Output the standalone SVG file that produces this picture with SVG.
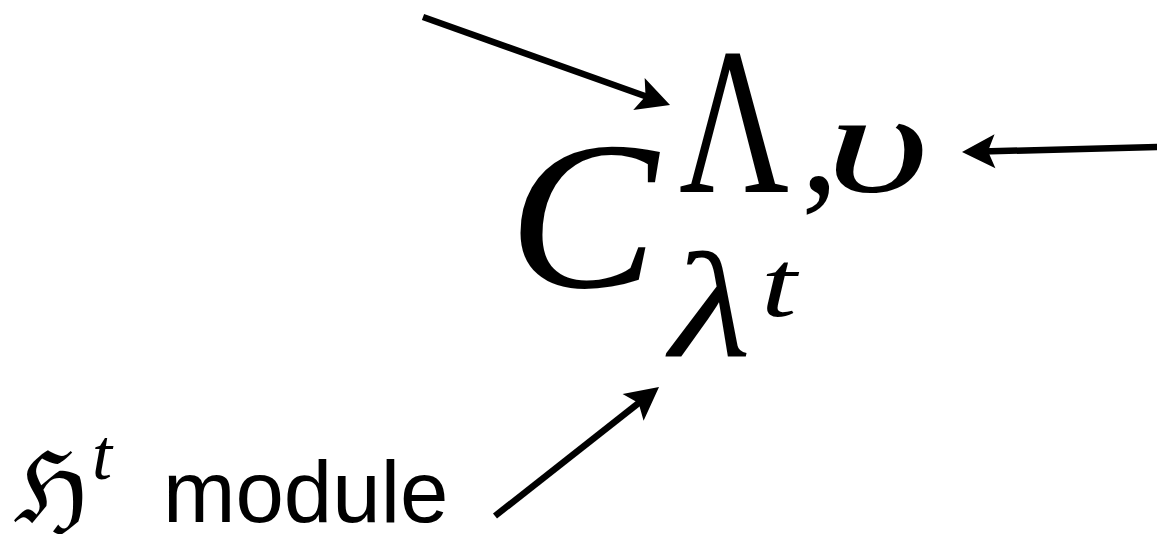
<svg xmlns="http://www.w3.org/2000/svg" width="1157" height="534" viewBox="0 0 1157 534">
<style>
.conn { stroke: #000; stroke-width: 6.5; fill: none; marker-end: url(#ah); }
.math { font-family: "Liberation Serif", "DejaVu Serif", serif; fill: #000; }
.it { font-style: italic; }
.lbl { font-family: "Liberation Sans", Arial, sans-serif; fill: #000; }
</style>
<defs>
<marker id="ah" markerUnits="userSpaceOnUse" viewBox="-20 -20 45 40" refX="0" refY="0" markerWidth="45" markerHeight="40" orient="auto" overflow="visible">
<path d="M20,0 L-13,-17 L-6,0 L-13,17 Z" fill="#000"/>
</marker>
</defs>
<rect width="1157" height="534" fill="#fff"/>
<g id="expression">
<text class="math it" transform="translate(508,287) scale(1.06,1)" font-size="212">C</text>
<text class="math" transform="translate(679,192) scale(1,1.38)" font-size="152">Λ</text>
<text class="math" x="801" y="192" font-size="150">,</text>
<text class="math it" transform="translate(826,192) scale(1.55,1)" font-size="145">υ</text>
<text class="math it" transform="translate(670,357) scale(1.25,1)" font-size="150">λ</text>
<text class="math it" transform="translate(761,316) scale(1.35,1)" font-size="95">t</text>
</g>
<g id="label-module">
<text class="math" x="14" y="522" font-size="100">ℌ</text>
<text class="math it" x="92" y="479" font-size="72">t</text>
<text class="lbl" x="163" y="522" font-size="87">module</text>
</g>
<g id="connectors">
<line class="conn" x1="423" y1="17" x2="651.2" y2="98.3"/>
<line class="conn" x1="1160" y1="147" x2="982" y2="151.5"/>
<line class="conn" x1="495" y1="516" x2="643.3" y2="399.4"/>
</g>
</svg>
